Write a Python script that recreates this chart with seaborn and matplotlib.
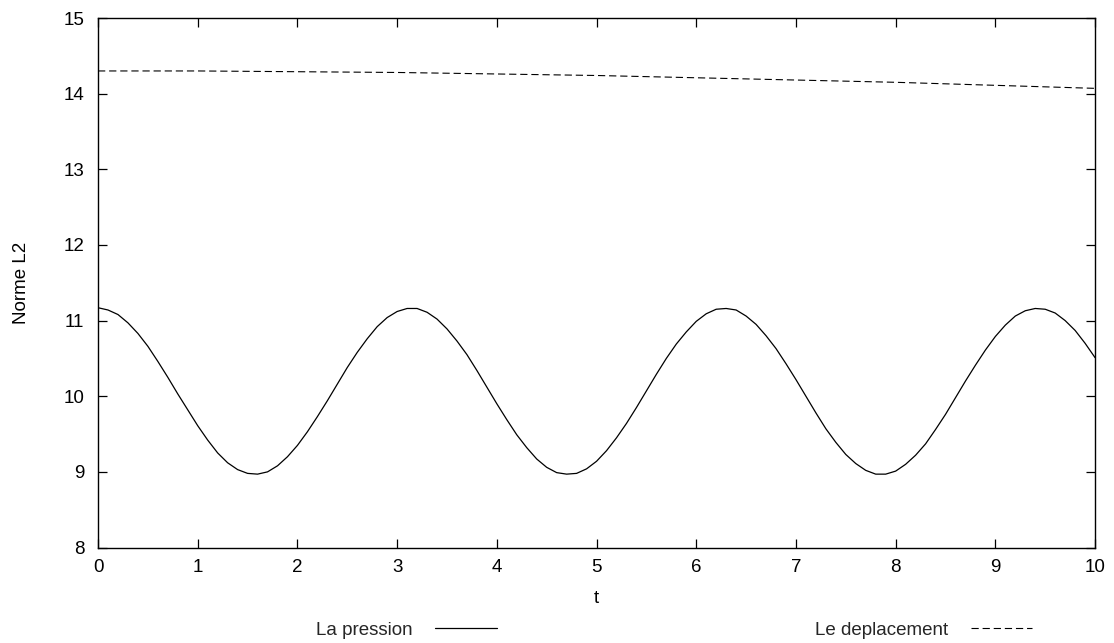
import matplotlib
matplotlib.use("Agg")
import matplotlib.pyplot as plt
import pandas as pd
import seaborn as sns

# Time samples for the pressure norm
t_pression = [round(0.1 * i, 1) for i in range(101)]
pression = [
    11.17, 11.14, 11.08, 10.97, 10.83, 10.66, 10.46, 10.25, 10.03, 9.82,
    9.61, 9.42, 9.25, 9.12, 9.03, 8.98, 8.97, 9.00, 9.08, 9.20,
    9.35, 9.53, 9.73, 9.94, 10.16, 10.38, 10.58, 10.76, 10.92, 11.04,
    11.12, 11.16, 11.16, 11.11, 11.02, 10.89, 10.73, 10.55, 10.34, 10.12,
    9.90, 9.69, 9.49, 9.32, 9.17, 9.06, 8.99, 8.97, 8.98, 9.04,
    9.14, 9.28, 9.45, 9.64, 9.85, 10.07, 10.29, 10.50, 10.69, 10.85,
    10.99, 11.09, 11.15, 11.16, 11.14, 11.06, 10.95, 10.80, 10.63, 10.43,
    10.22, 10.00, 9.78, 9.57, 9.39, 9.23, 9.11, 9.02, 8.97, 8.97,
    9.01, 9.10, 9.22, 9.37, 9.56, 9.76, 9.98, 10.20, 10.41, 10.61,
    10.79, 10.94, 11.06, 11.13, 11.16, 11.15, 11.10, 11.00, 10.87, 10.70,
    10.51,
]

# Time samples for the displacement norm
t_deplacement = [0, 1, 2, 3, 4, 5, 6, 7, 8, 9, 10]
deplacement = [14.30, 14.30, 14.29, 14.28, 14.26, 14.24, 14.21, 14.18, 14.15, 14.11, 14.07]

x_ticks = [0, 1, 2, 3, 4, 5, 6, 7, 8, 9, 10]
y_ticks = [8, 9, 10, 11, 12, 13, 14, 15]

df_p = pd.DataFrame({"t": t_pression, "norme": pression})
df_d = pd.DataFrame({"t": t_deplacement, "norme": deplacement})

sns.set_theme(style="ticks")
plt.rcParams["font.family"] = ["Liberation Sans", "DejaVu Sans"]

FS = 13.5

fig = plt.figure(figsize=(11.14, 6.43), dpi=100)
ax = fig.add_axes([0.088, 0.1485, 0.895, 0.8235])

sns.lineplot(data=df_p, x="t", y="norme", ax=ax, color="black", lw=0.9,
             label="La pression")
sns.lineplot(data=df_d, x="t", y="norme", ax=ax, color="black", lw=0.8,
             label="Le deplacement")
ax.lines[1].set_dashes((6.5, 3.5))

ax.set_xlim(0, 10)
ax.set_ylim(8, 15)
ax.set_xticks(x_ticks)
ax.set_yticks(y_ticks)
ax.tick_params(direction="in", length=6.5, width=0.9, top=True, right=True,
               labelsize=FS, colors="black")
ax.tick_params(axis="x", pad=8.5)
ax.tick_params(axis="y", pad=10)
for s in ax.spines.values():
    s.set_visible(True)
    s.set_linewidth(1.0)
    s.set_color("black")

ax.set_xlabel("t", fontsize=FS, labelpad=10, color="black")
ax.set_ylabel("Norme L2", fontsize=FS, labelpad=24, color="black")

leg = ax.legend(loc="upper center", bbox_to_anchor=(0.578, -0.108), ncol=2,
                markerfirst=False, frameon=False, fontsize=FS,
                handlelength=3.3, handletextpad=1.17, columnspacing=17.0)

fig.savefig("out.png", dpi=100, facecolor="white")
